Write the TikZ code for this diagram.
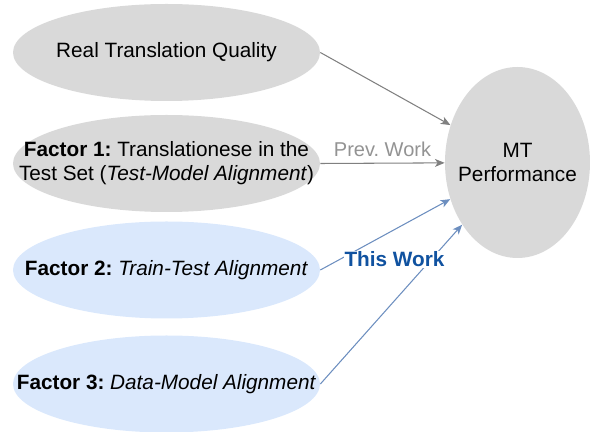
\documentclass[tikz,border=0pt]{standalone}
\usepackage{fontspec}
\setmainfont{Liberation Sans}
\usetikzlibrary{shapes.geometric, arrows.meta, positioning}
\frenchspacing

\definecolor{ovalgray}{RGB}{217,217,217}
\definecolor{ovalblue}{RGB}{218,232,252}
\definecolor{linkgray}{RGB}{128,128,128}
\definecolor{linkblue}{RGB}{108,142,191}
\definecolor{workblue}{RGB}{16,82,160}

\begin{document}
\begin{tikzpicture}[
  oval/.style={ellipse,fill=ovalgray,minimum width=6.14cm,minimum height=1.94cm,inner xsep=-1.2cm,inner ysep=0pt,align=center,font=\fontsize{11.8}{13.6}\selectfont},
  ovalb/.style={oval,fill=ovalblue},
  prev/.style={-{Stealth[length=5.5pt,width=4.5pt,inset=1.5pt]},line width=0.6pt,linkgray},
  ours/.style={-{Stealth[length=5.5pt,width=4.5pt,inset=1.5pt]},line width=0.6pt,linkblue}
]
  \useasboundingbox (0,0) rectangle (11.8,-8.64);
  \node[oval](RTQ) at (3.33,-1.05) {Real Translation Quality};
  \node[oval](F1) at (3.33,-3.27) {\textbf{Factor 1:} Translationese in the\\Test Set (\textit{Test-Model Alignment})};
  \node[ovalb](F2) at (3.33,-5.4) {\textbf{Factor 2:} \textit{Train-Test Alignment}};
  \node[ovalb](F3) at (3.33,-7.68) {\textbf{Factor 3:} \textit{Data-Model Alignment}};
  \node[oval,minimum width=2.9cm,minimum height=3.82cm](MT) at (10.35,-3.25) {MT\\Performance};
  % links
  \draw[prev](RTQ.east)--(MT);
  \draw[prev](F1.east)--(MT) node[above,midway,text=linkgray!85,font=\fontsize{11.4}{13}\selectfont]{Prev. Work};
  \draw[ours](F2.east)--(MT);
  \draw[ours](F3.east)--(MT);
  \node[fill=white,inner sep=0.5pt,text=workblue,font=\fontsize{11.8}{13.6}\selectfont\bfseries](TW) at (7.89,-5.19) {This Work};
\end{tikzpicture}
\end{document}
